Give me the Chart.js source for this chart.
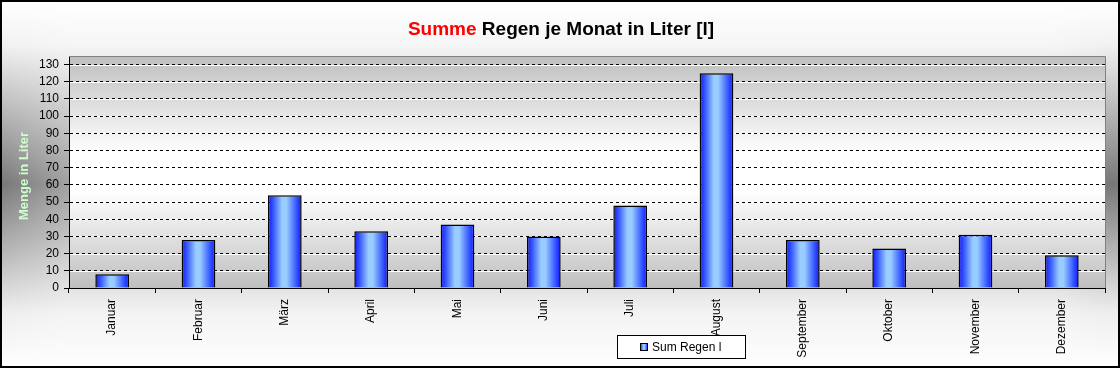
<!DOCTYPE html>
<html>
<head>
<meta charset="utf-8">
<script src="https://cdn.jsdelivr.net/npm/chart.js@4/dist/chart.umd.min.js"></script>
<style>
  html, body { margin: 0; padding: 0; background: #fff; }
  #wrap { width: 1120px; height: 368px; position: relative; }
</style>
</head>
<body>
<div id="wrap"><canvas id="chart"></canvas></div>
<script>
// Regen je Monat
const months = ["Januar", "Februar", "März", "April", "Mai", "Juni", "Juli", "August", "September", "Oktober", "November", "Dezember"]
const rain = [8, 28, 54, 33, 37, 30, 48, 125, 28, 23, 31, 19]
const seriesName = "Sum Regen l"
const titleRed = "Summe"
const titleRest = " Regen je Monat in Liter [l]"
const axisTitle = "Menge in Liter"
const yMin = 0
const yMax = 135
const yStep = 10

const FONT = "'Liberation Sans', Arial, sans-serif"
const BAR_PCT = 0.39

function barGradient(ctx, x0, x1) {
  const g = ctx.createLinearGradient(x0, 0, x1, 0)
  g.addColorStop(0, "#1414ff")
  g.addColorStop(0.15, "#3355ff")
  g.addColorStop(0.42, "#99ccff")
  g.addColorStop(0.55, "#99ccff")
  g.addColorStop(0.85, "#3355ff")
  g.addColorStop(1, "#1414ff")
  return g
}

// background, plot area and the white under-line of the dashed grid
const backdrop = {
  id: "backdrop",
  beforeDraw(chart) {
    const { ctx, chartArea: a, width, height } = chart
    ctx.save()
    const bg = ctx.createLinearGradient(0, 0, 0, height)
    bg.addColorStop(0, "#ffffff")
    bg.addColorStop(0.12, "#f2f2f2")
    bg.addColorStop(0.5, "#777777")
    bg.addColorStop(0.85, "#eeeeee")
    bg.addColorStop(1, "#ffffff")
    ctx.fillStyle = bg
    ctx.fillRect(0, 0, width, height)
    const side = ctx.createLinearGradient(0, 0, width, 0)
    side.addColorStop(0, "rgba(255,255,255,0)")
    side.addColorStop(0.06, "rgba(255,255,255,0.3)")
    side.addColorStop(0.94, "rgba(255,255,255,0.3)")
    side.addColorStop(0.99, "rgba(255,255,255,0)")
    ctx.fillStyle = side
    ctx.fillRect(0, 0, width, height)

    const pg = ctx.createLinearGradient(0, a.top, 0, a.bottom)
    pg.addColorStop(0, "#bfbfbf")
    pg.addColorStop(0.42, "#ffffff")
    pg.addColorStop(0.58, "#ffffff")
    pg.addColorStop(1, "#bfbfbf")
    ctx.fillStyle = pg
    ctx.fillRect(a.left, a.top, a.right - a.left, a.bottom - a.top)

    const ys = chart.scales.y
    ctx.strokeStyle = "#ffffff"
    ctx.lineWidth = 1
    ys.ticks.forEach(t => {
      const y = Math.round(ys.getPixelForValue(t.value)) + 0.5
      ctx.beginPath()
      ctx.moveTo(a.left, y)
      ctx.lineTo(a.right, y)
      ctx.stroke()
    })
    ctx.restore()
  },
  afterDraw(chart) {
    const { ctx, chartArea: a, width, height } = chart
    ctx.save()
    // plot frame top / right
    ctx.strokeStyle = "#808080"
    ctx.lineWidth = 1
    ctx.beginPath()
    ctx.moveTo(a.left, a.top + 0.5)
    ctx.lineTo(a.right + 0.5, a.top + 0.5)
    ctx.lineTo(a.right + 0.5, a.bottom)
    ctx.stroke()

    // title, two colours
    ctx.font = "bold 19px " + FONT
    ctx.textBaseline = "alphabetic"
    const w1 = ctx.measureText(titleRed).width
    const w2 = ctx.measureText(titleRest).width
    let x = 561 - (w1 + w2) / 2
    ctx.fillStyle = "#ff0000"
    ctx.fillText(titleRed, x, 35)
    ctx.fillStyle = "#000000"
    ctx.fillText(titleRest, x + w1, 35)

    // axis title
    ctx.translate(24, 176)
    ctx.rotate(-Math.PI / 2)
    ctx.font = "bold 13px " + FONT
    ctx.fillStyle = "#ccffcc"
    ctx.textAlign = "center"
    ctx.textBaseline = "middle"
    ctx.fillText(axisTitle, 0, 0)
    ctx.setTransform(1, 0, 0, 1, 0, 0)

    // legend box
    ctx.fillStyle = "#ffffff"
    ctx.fillRect(617, 335, 128, 23)
    ctx.strokeStyle = "#000000"
    ctx.strokeRect(617.5, 335.5, 128, 23)
    ctx.fillStyle = barGradient(ctx, 640, 648)
    ctx.fillRect(640, 343, 8, 8)
    ctx.strokeRect(640.5, 343.5, 7, 7)
    ctx.fillStyle = "#000000"
    ctx.font = "12px " + FONT
    ctx.textAlign = "left"
    ctx.textBaseline = "middle"
    ctx.fillText(seriesName, 652, 347.5)

    // outer frame
    ctx.lineWidth = 2
    ctx.strokeRect(1, 1, width - 2, height - 2)
    ctx.restore()
  }
}

new Chart(document.getElementById("chart"), {
  type: "bar",
  data: {
    labels: months,
    datasets: [{
      label: seriesName,
      data: rain,
      backgroundColor(c) {
        const xs = c.chart.scales.x
        if (!xs || !c.chart.chartArea) return "#6699ff"
        const cx = xs.getPixelForValue(c.dataIndex)
        const w = (xs.width / months.length) * BAR_PCT
        return barGradient(c.chart.ctx, cx - w / 2, cx + w / 2)
      },
      borderColor: "#000000",
      borderWidth: 1.5,
      categoryPercentage: 1,
      barPercentage: BAR_PCT
    }]
  },
  options: {
    responsive: true,
    maintainAspectRatio: false,
    animation: false,
    layout: { padding: { left: 0, top: 56, right: 15, bottom: 0 } },
    plugins: {
      legend: { display: false },
      title: { display: false },
      tooltip: { enabled: false }
    },
    scales: {
      x: {
        afterFit(s) { s.height = 80 },
        grid: {
          offset: true,
          drawOnChartArea: false,
          drawTicks: true,
          tickLength: 5,
          tickColor: "#000000"
        },
        border: { color: "#000000", width: 1 },
        ticks: {
          color: "#000000",
          font: { family: FONT, size: 12 },
          minRotation: 90,
          maxRotation: 90,
          autoSkip: false,
          padding: 6
        }
      },
      y: {
        min: yMin,
        max: yMax,
        afterFit(s) { s.width = 69 },
        grid: {
          color: "#000000",
          tickColor: "#000000",
          tickLength: 5,
          tickBorderDash: []
        },
        border: { color: "#000000", width: 1, dash: [3, 3] },
        ticks: {
          stepSize: yStep,
          includeBounds: false,
          color: "#000000",
          font: { family: FONT, size: 12 },
          padding: 5
        }
      }
    }
  },
  plugins: [backdrop]
})
</script>
</body>
</html>
